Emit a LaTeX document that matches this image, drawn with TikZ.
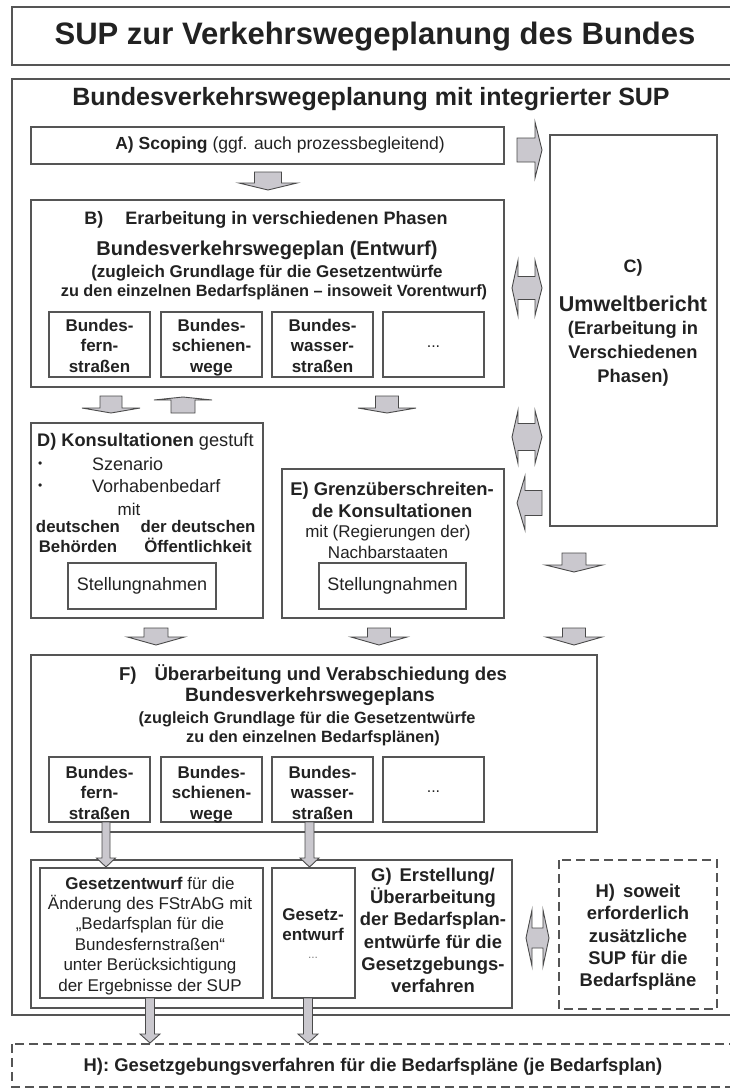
\documentclass[tikz,border=0pt]{standalone}
\usepackage{fontspec}
\setmainfont{Liberation Sans}
\definecolor{ln}{HTML}{555555}
\definecolor{tx}{HTML}{222222}
\definecolor{af}{HTML}{CAC8CE}
\definecolor{al}{HTML}{4A4A4A}
\newcommand\fsz[2]{\fontsize{#1}{#2}\selectfont}
\newcommand\blkV[6]{% cx, ytail, ybase, ytip, halfbody, halfhead
 \draw[blk] ({#1-#5},#2) -- ({#1+#5},#2) -- ({#1+#5},#3) -- ({#1+#6},#3) -- (#1,#4) -- ({#1-#6},#3) -- ({#1-#5},#3) -- cycle;}
\newcommand\blkH[6]{% cy, xtail, xbase, xtip, halfbody, halfhead
 \draw[blk] (#2,{#1-#5}) -- (#3,{#1-#5}) -- (#3,{#1-#6}) -- (#4,#1) -- (#3,{#1+#6}) -- (#3,{#1+#5}) -- (#2,{#1+#5}) -- cycle;}
\newcommand\blkHH[7]{% cy, xtipL, xbaseL, xbaseR, xtipR, halfbody, halfhead
 \draw[blk] (#3,{#1-#6}) -- (#4,{#1-#6}) -- (#4,{#1-#7}) -- (#5,#1) -- (#4,{#1+#7}) -- (#4,{#1+#6}) -- (#3,{#1+#6}) -- (#3,{#1+#7}) -- (#2,#1) -- (#3,{#1-#7}) -- cycle;}
\tikzset{
 bx/.style={draw=ln, line width=1.4pt, fill=white},
 dbx/.style={draw=ln, line width=1.3pt, dash pattern=on 9pt off 5pt},
 tx/.style={text=tx, inner sep=0pt, align=center},
 ml/.style={tx, anchor=base},
 blk/.style={draw=al, fill=af, line width=0.9pt, line join=miter},
}
\begin{document}
\begin{tikzpicture}[x=1pt,y=-1pt]
\useasboundingbox (0,0) rectangle (730,1088);
\clip (0,0) rectangle (730,1088);
\fill[white] (0,0) rectangle (730,1088);

% title
\draw[draw=ln, line width=2.2pt] (12,7) rectangle (745,65);
\node[tx, font=\fsz{31}{36}\bfseries] (title) at (375,37) {SUP zur Verkehrswegeplanung des Bundes};

% main frame
\draw[draw=ln, line width=1.6pt] (12,79) rectangle (745,1015);
\node[tx, font=\fsz{25}{30}\bfseries] (sub) at (371,99) {Bundesverkehrswegeplanung mit integrierter SUP};

% A
\draw[bx] (31,127) rectangle (504,164);
\node[tx, font=\fsz{17.5}{21}] (a) at (280,145) {\textbf{A) Scoping} (ggf. auch prozessbegleitend)};

% B
\draw[bx] (31,200) rectangle (504,387);
\node[tx, font=\fsz{18}{21}\bfseries] (b1) at (266,220) {B)\hspace{22pt}Erarbeitung in verschiedenen Phasen};
\node[tx, font=\fsz{20}{24}\bfseries] (b2) at (267,250) {Bundesverkehrswegeplan (Entwurf)};
\node[tx, font=\fsz{17}{20}\bfseries] (b3) at (267,273) {(zugleich Grundlage für die Gesetzentwürfe};
\node[tx, font=\fsz{16.3}{20}\bfseries] (b4) at (274,292) {zu den einzelnen Bedarfsplänen – insoweit Vorentwurf)};
\foreach \xa/\xb/\t [count=\i] in {49/150/{Bundes-\\fern-\\straßen},161/262/{Bundes-\\schienen-\\wege},272/373/{Bundes-\\wasser-\\straßen}}{
  \draw[bx] (\xa,312) rectangle (\xb,377);
  \node[ml, font=\fsz{17}{20.5}\bfseries] (bs\i) at ({(\xa+\xb)/2},372) {\t};
}
\draw[bx] (383,312) rectangle (484,377);
\node[tx, font=\fsz{16}{20}] (bs4) at (433.5,347) {...};

% C
\draw[bx] (550,135) rectangle (717,526);
\node[tx, font=\fsz{18}{21}\bfseries] (c1) at (633,268) {C)};
\node[tx, font=\fsz{21.5}{25}\bfseries] (c2) at (633,304) {Umweltbericht};
\node[ml, font=\fsz{18.3}{23.8}\bfseries] (c3) at (633,382.5) {(Erarbeitung in\\Verschiedenen\\Phasen)};

% D
\draw[bx] (31,423) rectangle (263,618);
\node[tx, font=\fsz{18.2}{21}, anchor=west] (d1) at (37,442) {\textbf{D) Konsultationen} gestuft};
\node[tx, font=\fsz{12}{14}, anchor=west] (db1) at (38,465) {•};
\node[tx, font=\fsz{18}{21}, anchor=west] (d2) at (92,464) {Szenario};
\node[tx, font=\fsz{12}{14}, anchor=west] (db2) at (38,487) {•};
\node[tx, font=\fsz{18}{21}, anchor=west] (d3) at (92,486) {Vorhabenbedarf};
\node[tx, font=\fsz{17}{20}] (d4) at (129,509) {mit};
\node[ml, font=\fsz{16.8}{20}\bfseries] (d5) at (78,552) {deutschen\\Behörden};
\node[ml, font=\fsz{16.8}{20}\bfseries] (d6) at (198,552) {der deutschen\\Öffentlichkeit};
\draw[bx] (68,563) rectangle (216,609);
\node[tx, font=\fsz{18}{21}] (d7) at (142,586) {Stellungnahmen};

% E
\draw[bx] (282,469) rectangle (504,618);
\node[ml, font=\fsz{18.4}{22}\bfseries] (e1) at (392,517.5) {E) Grenzüberschreiten-\\de Konsultationen};
\node[ml, font=\fsz{17}{21}] (e2) at (388,558) {mit (Regierungen der)\\Nachbarstaaten};
\draw[bx] (319,563) rectangle (466,609);
\node[tx, font=\fsz{18}{21}] (e3) at (392.5,586) {Stellungnahmen};

% F
\draw[bx] (31,655) rectangle (597,832);
\node[tx, font=\fsz{18.6}{22}\bfseries] (f1) at (313,675) {F)\hspace{18pt}Überarbeitung und Verabschiedung des};
\node[tx, font=\fsz{19.3}{22}\bfseries] (f2) at (310,697) {Bundesverkehrswegeplans};
\node[tx, font=\fsz{16.3}{19}\bfseries] (f3) at (307,719) {(zugleich Grundlage für die Gesetzentwürfe};
\node[tx, font=\fsz{16.3}{19}\bfseries] (f4) at (313,738) {zu den einzelnen Bedarfsplänen)};
\foreach \xa/\xb/\t [count=\i] in {49/150/{Bundes-\\fern-\\straßen},161/262/{Bundes-\\schienen-\\wege},272/373/{Bundes-\\wasser-\\straßen}}{
  \draw[bx] (\xa,757) rectangle (\xb,822);
  \node[ml, font=\fsz{17}{20.5}\bfseries] (fs\i) at ({(\xa+\xb)/2},819) {\t};
}
\draw[bx] (383,757) rectangle (484,822);
\node[tx, font=\fsz{16}{20}] (fs4) at (433.5,792) {...};

% G
\draw[bx] (31,860) rectangle (512,1008);
\draw[bx] (40,868) rectangle (263,998);
\node[ml, font=\fsz{17}{20.4}] (g1) at (150,991) {\textbf{Gesetzentwurf} für die\\Änderung des FStrAbG mit\\„Bedarfsplan für die\\Bundesfernstraßen“\\unter Berücksichtigung\\der Ergebnisse der SUP};
\draw[bx] (272,868) rectangle (355,998);
\node[ml, font=\fsz{17}{20}\bfseries] (g2) at (313,940) {Gesetz-\\entwurf};
\node[tx, font=\fsz{12}{14}, text=gray] (g3) at (313,958) {...};
\node[ml, font=\fsz{18.4}{22.2}\bfseries] (g4) at (433,992.5) {G)\hspace{8pt}Erstellung/\\Überarbeitung\\der Bedarfsplan-\\entwürfe für die\\Gesetzgebungs-\\verfahren};

% H right
\draw[dbx] (559,860) rectangle (717,1009);
\node[ml, font=\fsz{18.4}{22.25}\bfseries] (h1) at (638,986.5) {H)\hspace{8pt}soweit\\erforderlich\\zusätzliche\\SUP für die\\Bedarfspläne};

% bottom
\draw[dbx] (12,1044) rectangle (745,1087);
\node[tx, font=\fsz{18.4}{22}\bfseries] (h2) at (373,1067) {H): Gesetzgebungsverfahren für die Bedarfspläne (je Bedarfsplan)};

% block arrows
\blkH{150}{517}{535}{542}{12}{28}
\blkV{268}{172}{183}{190}{13.5}{29}
\blkHH{288}{512}{518}{535}{542}{11.5}{27.5}
\blkV{111}{396}{408}{413}{11}{29}
\blkV{183}{413}{400}{397}{12}{29}
\blkV{387}{396}{408}{413}{11.5}{29}
\blkHH{437}{512}{518}{535}{542}{13.5}{26.5}
\blkH{503}{542}{525}{517}{12.5}{27}
\blkV{574}{553}{565}{572}{12}{28.5}
\blkV{156}{628}{637}{645}{12}{28.5}
\blkV{379}{628}{637}{645}{11.5}{28}
\blkV{574}{628}{637}{645}{11.5}{28}
\blkV{106}{822}{858}{867}{4}{9.5}
\blkV{309.5}{822}{858}{867}{4.5}{9.5}
\blkHH{938}{526}{532}{543}{549}{10}{28}
\blkV{150}{998}{1034}{1043}{4.5}{10}
\blkV{308}{998}{1034}{1043}{4.5}{10}
\end{tikzpicture}
\end{document}
